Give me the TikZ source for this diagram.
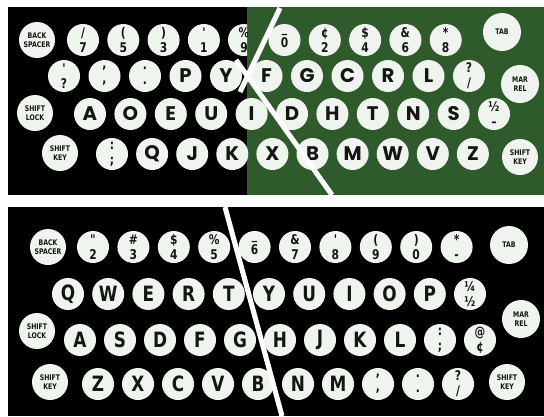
\documentclass[tikz,border=0pt]{standalone}
\usepackage{fontspec}
\newfontfamily\roundfont{Poppins}
\newfontfamily\narrowfont{DejaVu Sans}[FakeStretch=0.8]
\usetikzlibrary{calc}
\definecolor{felt}{HTML}{2F5A2C}
\definecolor{keycap}{HTML}{F0F4EE}
\definecolor{ink}{HTML}{151515}

\begin{document}
\begin{tikzpicture}[x=0.25mm, y=-0.25mm,
  key/.style={circle, fill=keycap, text=ink, minimum size=8mm, inner sep=0pt},
  dvkey/.style={key, font=\roundfont\bfseries\fontsize{14}{14}\selectfont},
  qwkey/.style={key, font=\narrowfont\bfseries\fontsize{15}{15}\selectfont},
  pairkey/.style={key, align=center, font=\narrowfont\bfseries\fontsize{9.5}{10.5}\selectfont},
  funckey/.style={key, minimum size=9mm, align=center, font=\narrowfont\bfseries\fontsize{5.5}{6.2}\selectfont},
  divider/.style={white, line width=3.6pt}
]
  \useasboundingbox (0,0) rectangle (544,416);
  \fill[white] (0,0) rectangle (544,416);
  \fill[black] (8,7) rectangle (544,195);
  \fill[felt] (247,7) rectangle (544,195);
  \fill[black] (8,207) rectangle (544,416);

  % Dvorak board
  \node[funckey] (dvback) at (37,40) {BACK\\SPACER};
  \foreach \up/\lo [count=\i from 0] in {{\slash}/7,{(}/5,{)}/3,{'}/1}
    \node[pairkey] (dvnum\i) at (83+40.3*\i,40) {\up\\\lo};
  \begin{scope}
    \clip (8,7) rectangle (247,195);
    \node[pairkey] (dvnine) at (244,40) {\%\\9};
  \end{scope}
  \foreach \up/\lo [count=\i from 5] in {{\_}/0,{¢}/2,{\$}/4,{\&}/6,{*}/8}
    \node[pairkey] (dvnum\i) at (83+40.3*\i,40) {\up\\\lo};
  \node[funckey, minimum size=9.5mm] (dvtab) at (502,32) {TAB};

  \node[pairkey] (dvquote) at (64,76) {'\\?};
  \node[pairkey] (dvcomma) at (104.5,76) {,\\,};
  \node[pairkey] (dvperiod) at (145,76) {.\\.};
  \foreach \ch [count=\i from 3] in {P,Y,F,G,C,R,L}
    \node[dvkey] (dv\ch) at (64+40.5*\i,76) {\ch};
  \node[pairkey] (dvslash) at (469,76) {?\\\slash};
  \node[funckey, minimum size=9.5mm] (dvmar) at (520,84) {MAR\\REL};

  \node[funckey] (dvlock) at (35,113) {SHIFT\\LOCK};
  \foreach \ch [count=\i from 0] in {A,O,E,U,I,D,H,T,N,S}
    \node[dvkey] (dv\ch) at (90+40.4*\i,114) {\ch};
  \node[pairkey] (dvhalf) at (494,114) {½\\–};

  \node[funckey] (dvshiftl) at (60,153) {SHIFT\\KEY};
  \node[pairkey] (dvsemi) at (112,154) {:\\;};
  \foreach \ch [count=\i from 1] in {Q,J,K,X,B,M,W,V,Z}
    \node[dvkey] (dv\ch) at (112+40.1*\i,154) {\ch};
  \node[funckey] (dvshiftr) at (520,157) {SHIFT\\KEY};

  \draw[divider] (280,8) -- (240,92);
  \draw[divider] (236,60) -- (332,195);

  % standard board
  \node[funckey] (qwback) at (48,247) {BACK\\SPACER};
  \foreach \up/\lo [count=\i from 0] in {{"}/2,{\#}/3,{\$}/4,{\%}/5,{\_}/6,{\&}/7,{'}/8,{(}/9,{)}/0,{*}/-}
    \node[pairkey] (qwnum\i) at (93+40.4*\i,247) {\up\\\lo};
  \node[funckey, minimum size=9.5mm] (qwtab) at (509,245) {TAB};

  \foreach \ch [count=\i from 0] in {Q,W,E,R,T,Y,U,I,O,P}
    \node[qwkey] (qw\ch) at (68+40.2*\i,294) {\ch};
  \node[pairkey] (qwquarter) at (470,294) {¼\\½};
  \node[funckey, minimum size=9.5mm] (qwmar) at (521,319) {MAR\\REL};

  \node[funckey] (qwlock) at (37,331) {SHIFT\\LOCK};
  \foreach \ch [count=\i from 0] in {A,S,D,F,G,H,J,K,L}
    \node[qwkey] (qw\ch) at (80+40*\i,340) {\ch};
  \node[pairkey] (qwsemi) at (440,340) {:\\;};
  \node[pairkey] (qwcent) at (480,340) {@\\¢};

  \node[funckey] (qwshiftl) at (50,382) {SHIFT\\KEY};
  \foreach \ch [count=\i from 0] in {Z,X,C,V,B,N,M}
    \node[qwkey] (qw\ch) at (98+40*\i,384) {\ch};
  \node[pairkey] (qwcomma) at (378,384) {,\\,};
  \node[pairkey] (qwperiod) at (418,384) {.\\.};
  \node[pairkey] (qwslash) at (458,384) {?\\\slash};
  \node[funckey] (qwshiftr) at (507,382) {SHIFT\\KEY};

  \draw[divider] (225,207) -- (282,416);
\end{tikzpicture}
\end{document}
